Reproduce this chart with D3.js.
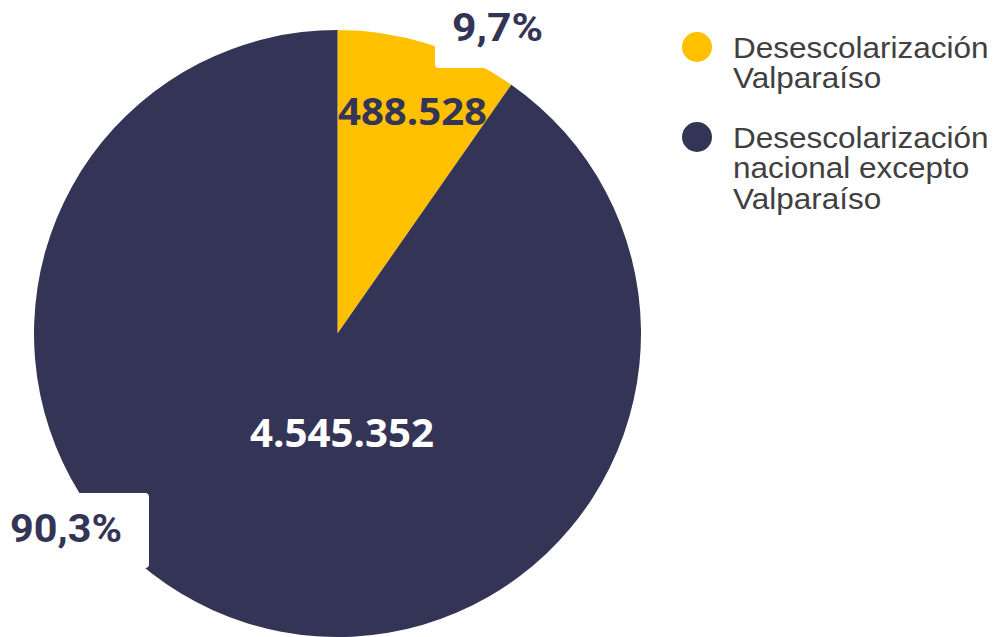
<!DOCTYPE html>
<html><head><meta charset="utf-8">
<script src="https://cdn.jsdelivr.net/npm/d3@7"></script>
<style>body{margin:0;background:#fff}svg{display:block}</style>
</head><body>
<svg id="c" width="995" height="637"></svg>
<script>
const categories = ["Desescolarización Valparaíso", "Desescolarización nacional excepto Valparaíso"];
const values = [488528, 4545352];
const valueLabels = ["488.528", "4.545.352"];
const pctLabels = ["9,7%", "90,3%"];
const legendLines = [["Desescolarización", "Valparaíso"], ["Desescolarización", "nacional excepto", "Valparaíso"]];
const colors = ["#FFC000", "#343456"];

const svg = d3.select("#c");
const cx = 337.5, cy = 333.5, r = 303.5;
const pie = d3.pie().sort(null).value(d => d)(values);
const arc = d3.arc().innerRadius(0).outerRadius(r);
const g = svg.append("g").attr("transform", `translate(${cx},${cy})`);
g.selectAll("path").data(pie).join("path").attr("d", arc).attr("fill", (d, i) => colors[i]);

// percent label boxes
svg.append("rect").attr("x", 435).attr("y", -10).attr("width", 115).attr("height", 78).attr("rx", 4).attr("fill", "#fff");
svg.append("rect").attr("x", -10).attr("y", 493).attr("width", 159).attr("height", 75).attr("rx", 4).attr("fill", "#fff");

const bold = "Roboto, 'Open Sans', sans-serif";
function fit(sel, w) { sel.attr("textLength", w).attr("lengthAdjust", "spacingAndGlyphs"); }
const t1 = svg.append("text").attr("x", 497.5).attr("y", 41).attr("text-anchor", "middle")
  .attr("font-family", bold).attr("font-weight", 700).attr("font-size", 39).attr("fill", "#343456").text(pctLabels[0]);
fit(t1, 91);
const t2 = svg.append("text").attr("x", 66).attr("y", 542).attr("text-anchor", "middle")
  .attr("font-family", bold).attr("font-weight", 700).attr("font-size", 39).attr("fill", "#343456").text(pctLabels[1]);
fit(t2, 112);

const t3 = svg.append("text").attr("x", 412.5).attr("y", 124.5).attr("text-anchor", "middle")
  .attr("font-family", "'Open Sans', sans-serif").attr("font-weight", 700).attr("font-size", 38).attr("fill", "#343456").text(valueLabels[0]);
fit(t3, 149);
const t4 = svg.append("text").attr("x", 342).attr("y", 447).attr("text-anchor", "middle")
  .attr("font-family", "'Open Sans', sans-serif").attr("font-weight", 700).attr("font-size", 40).attr("fill", "#fff").text(valueLabels[1]);
fit(t4, 184);

// legend
const legY = [47, 137];
legendLines.forEach((lines, i) => {
  svg.append("circle").attr("cx", 697).attr("cy", legY[i]).attr("r", 15).attr("fill", colors[i]);
  const lg = svg.append("g").attr("transform", "translate(733,0) scale(1.05,1)");
  lines.forEach((l, j) => {
    lg.append("text").attr("font-family", "'Liberation Sans', Arial, sans-serif").attr("font-size", 30).attr("fill", "#404040")
      .attr("x", 0).attr("y", legY[i] + 11 + j * 30.5).text(l);
  });
});
</script>
</body></html>
